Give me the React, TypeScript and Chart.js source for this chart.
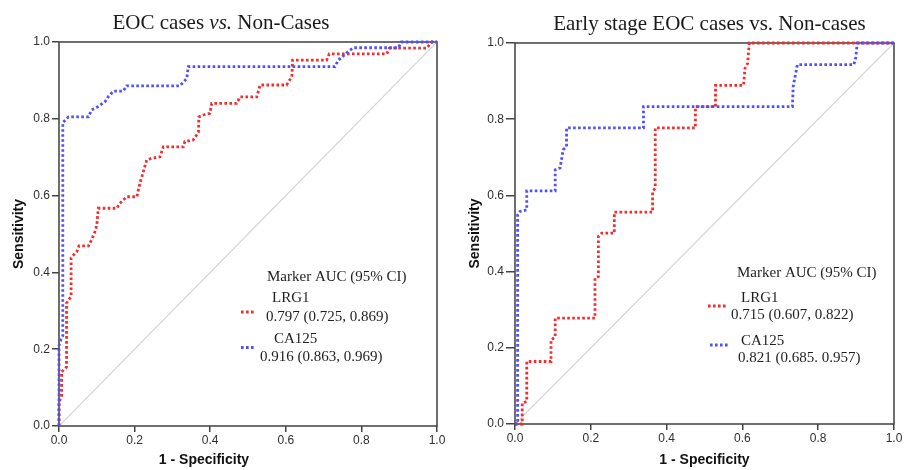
import React, { useEffect, useRef } from 'react';
import { Chart, registerables } from 'chart.js';

Chart.register(...registerables);

// ---------- DATA ----------
const tickValues = [0, 0.2, 0.4, 0.6, 0.8, 1.0];
const tickLabels = ['0.0', '0.2', '0.4', '0.6', '0.8', '1.0'];

// Left panel: EOC cases vs. Non-Cases
const leftLrg1Fpr = [0, 0, 0.007, 0.007, 0.02, 0.02, 0.025, 0.032, 0.032, 0.038, 0.047, 0.053, 0.078, 0.086, 0.095, 0.1, 0.104, 0.153, 0.161, 0.179, 0.206, 0.214, 0.223, 0.232, 0.245, 0.267, 0.276, 0.329, 0.333, 0.355, 0.364, 0.369, 0.37, 0.382, 0.399, 0.404, 0.47, 0.479, 0.523, 0.532, 0.602, 0.616, 0.618, 0.708, 0.715, 0.867, 0.874, 0.973, 0.986, 1];
const leftLrg1Sens = [0, 0.063, 0.076, 0.141, 0.154, 0.32, 0.328, 0.337, 0.437, 0.445, 0.454, 0.469, 0.469, 0.484, 0.506, 0.523, 0.567, 0.567, 0.58, 0.597, 0.597, 0.632, 0.662, 0.693, 0.697, 0.701, 0.727, 0.727, 0.741, 0.745, 0.758, 0.766, 0.805, 0.81, 0.814, 0.84, 0.84, 0.857, 0.857, 0.888, 0.888, 0.91, 0.953, 0.953, 0.969, 0.969, 0.984, 0.984, 1.0, 1];
const leftCa125Fpr = [0, 0, 0.005, 0.01, 0.01, 0.025, 0.078, 0.086, 0.104, 0.122, 0.13, 0.144, 0.17, 0.179, 0.32, 0.338, 0.342, 0.73, 0.739, 0.765, 0.779, 0.898, 0.906, 1];
const leftCa125Sens = [0, 0.21, 0.225, 0.235, 0.79, 0.805, 0.805, 0.823, 0.832, 0.845, 0.857, 0.872, 0.872, 0.886, 0.886, 0.905, 0.936, 0.936, 0.953, 0.975, 0.985, 0.985, 1.0, 1];

// Right panel: Early stage EOC cases vs. Non-cases
const rightLrg1Fpr = [0, 0.019, 0.019, 0.031, 0.031, 0.095, 0.095, 0.106, 0.106, 0.211, 0.211, 0.22, 0.22, 0.229, 0.262, 0.262, 0.363, 0.363, 0.37, 0.37, 0.476, 0.476, 0.529, 0.529, 0.603, 0.607, 0.614, 0.618, 1];
const rightLrg1Sens = [0, 0, 0.055, 0.059, 0.164, 0.164, 0.221, 0.228, 0.278, 0.278, 0.383, 0.387, 0.492, 0.501, 0.501, 0.556, 0.556, 0.61, 0.619, 0.777, 0.777, 0.833, 0.833, 0.889, 0.889, 0.934, 0.947, 1.0, 1];
const rightCa125Fpr = [0, 0.007, 0.007, 0.013, 0.031, 0.031, 0.106, 0.106, 0.119, 0.127, 0.136, 0.136, 0.339, 0.339, 0.732, 0.734, 0.745, 0.894, 0.899, 0.903, 1];
const rightCa125Sens = [0, 0, 0.549, 0.558, 0.562, 0.612, 0.612, 0.667, 0.672, 0.72, 0.728, 0.777, 0.777, 0.833, 0.833, 0.886, 0.943, 0.943, 0.961, 1.0, 1];

const seriesNames = ['LRG1', 'CA125'];
const leftAuc = ['0.797 (0.725, 0.869)', '0.916 (0.863, 0.969)'];
const rightAuc = ['0.715 (0.607, 0.822)', '0.821 (0.685. 0.957)'];

// ---------- STYLE ----------
const RED = '#f42c2c';
const BLUE = '#4f4fff';
const SERIF = '"Liberation Serif", "Times New Roman", serif';
const SANS = '"Liberation Sans", Arial, sans-serif';

type TitleSeg = { text: string; italic: boolean };
type Panel = {
  lrgFpr: number[]; lrgSens: number[]; caFpr: number[]; caSens: number[];
  title: TitleSeg[]; titleX: number; titleY: number;
  pad: { left: number; right: number; top: number; bottom: number };
  yWidth: number; xHeight: number; yTickLen: number; yTickPad: number;
  yTitleX: number; xTitleX: number | null; xTitleY: number;
  legendHeader: [number, number];
  name1: [number, number]; val1: [number, number]; sw1: [number, number, number];
  name2: [number, number]; val2: [number, number]; sw2: [number, number, number];
  auc: string[];
};

const toPts = (xs: number[], ys: number[]) => xs.map((x, i) => ({ x, y: ys[i] }));

function makeConfig(p: Panel): any {
  const decor = {
    id: 'decor',
    beforeDatasetsDraw(chart: any) {
      const { ctx, chartArea: a } = chart;
      ctx.save();
      ctx.strokeStyle = '#4a4a4a';
      ctx.lineWidth = 1.6;
      ctx.strokeRect(a.left, a.top, a.right - a.left, a.bottom - a.top);
      ctx.restore();
    },
    afterDraw(chart: any) {
      const { ctx, chartArea: a } = chart;
      ctx.save();
      // title
      ctx.fillStyle = '#1a1a1a';
      ctx.textBaseline = 'alphabetic';
      ctx.textAlign = 'left';
      let total = 0;
      const widths = p.title.map((s) => {
        ctx.font = (s.italic ? 'italic ' : '') + '21px ' + SERIF;
        const w = ctx.measureText(s.text).width;
        total += w;
        return w;
      });
      let x = p.titleX - total / 2;
      p.title.forEach((s, i) => {
        ctx.font = (s.italic ? 'italic ' : '') + '21px ' + SERIF;
        ctx.fillText(s.text, x, p.titleY);
        x += widths[i];
      });
      // axis titles
      ctx.fillStyle = '#111';
      ctx.font = 'bold 14px ' + SANS;
      ctx.textAlign = 'center';
      ctx.textBaseline = 'middle';
      const xtx = p.xTitleX === null ? (a.left + a.right) / 2 : p.xTitleX;
      ctx.fillText('1 - Specificity', xtx, p.xTitleY);
      ctx.save();
      ctx.translate(p.yTitleX, (a.top + a.bottom) / 2);
      ctx.rotate(-Math.PI / 2);
      ctx.fillText('Sensitivity', 0, 0);
      ctx.restore();
      // legend
      ctx.fillStyle = '#1e1e1e';
      ctx.font = '15px ' + SERIF;
      ctx.textAlign = 'left';
      ctx.textBaseline = 'middle';
      ctx.fillText('Marker AUC (95% CI)', p.legendHeader[0], p.legendHeader[1]);
      ctx.fillText(seriesNames[0], p.name1[0], p.name1[1]);
      ctx.fillText(p.auc[0], p.val1[0], p.val1[1]);
      ctx.fillText(seriesNames[1], p.name2[0], p.name2[1]);
      ctx.fillText(p.auc[1], p.val2[0], p.val2[1]);
      ctx.lineWidth = 2.8;
      ctx.setLineDash([2.6, 2.4]);
      ctx.strokeStyle = RED;
      ctx.beginPath();
      ctx.moveTo(p.sw1[0], p.sw1[2]);
      ctx.lineTo(p.sw1[1], p.sw1[2]);
      ctx.stroke();
      ctx.strokeStyle = BLUE;
      ctx.beginPath();
      ctx.moveTo(p.sw2[0], p.sw2[2]);
      ctx.lineTo(p.sw2[1], p.sw2[2]);
      ctx.stroke();
      ctx.restore();
    },
  };

  const lineDs = (label: string, data: any, color: string) => ({
    label,
    data,
    showLine: true,
    borderColor: color,
    backgroundColor: color,
    borderWidth: 2.8,
    borderDash: [2.6, 2.4],
    borderCapStyle: 'butt',
    pointRadius: 0,
    pointHoverRadius: 0,
    tension: 0,
    fill: false,
    clip: 4,
  });

  return {
    type: 'scatter',
    data: {
      datasets: [
        lineDs(seriesNames[1], toPts(p.caFpr, p.caSens), BLUE),
        lineDs(seriesNames[0], toPts(p.lrgFpr, p.lrgSens), RED),
        {
          label: 'ref',
          data: toPts([0, 1], [0, 1]),
          showLine: true,
          borderColor: '#d2d2d2',
          borderWidth: 1.2,
          pointRadius: 0,
          fill: false,
        },
      ],
    },
    options: {
      responsive: false,
      animation: false,
      events: [],
      layout: { padding: p.pad },
      plugins: { legend: { display: false }, tooltip: { enabled: false }, title: { display: false } },
      scales: {
        x: {
          type: 'linear',
          min: 0,
          max: 1,
          afterBuildTicks: (s: any) => { s.ticks = tickValues.map((v) => ({ value: v })); },
          afterFit: (s: any) => { s.height = p.xHeight; },
          ticks: {
            callback: (_v: any, i: number) => tickLabels[i],
            font: { family: SANS, size: 12 },
            color: '#2e2e2e',
            padding: 1,
            maxRotation: 0,
          },
          grid: { display: true, drawOnChartArea: false, drawTicks: true, tickLength: 6, color: '#444', lineWidth: 1.5 },
          border: { display: false },
          title: { display: false },
        },
        y: {
          type: 'linear',
          min: 0,
          max: 1,
          afterBuildTicks: (s: any) => { s.ticks = tickValues.map((v) => ({ value: v })); },
          afterFit: (s: any) => { s.width = p.yWidth; },
          ticks: {
            callback: (_v: any, i: number) => tickLabels[i],
            font: { family: SANS, size: 12 },
            color: '#2e2e2e',
            padding: p.yTickPad,
          },
          grid: { display: true, drawOnChartArea: false, drawTicks: true, tickLength: p.yTickLen, color: '#444', lineWidth: 1.5 },
          border: { display: false },
          title: { display: false },
        },
      },
    },
    plugins: [decor],
  };
}

const leftPanel: Panel = {
  lrgFpr: leftLrg1Fpr, lrgSens: leftLrg1Sens, caFpr: leftCa125Fpr, caSens: leftCa125Sens,
  title: [
    { text: 'EOC cases ', italic: false },
    { text: 'vs.', italic: true },
    { text: ' Non-Cases', italic: false },
  ],
  titleX: 221, titleY: 29,
  pad: { left: 0, right: 17, top: 42, bottom: 0 },
  yWidth: 59, xHeight: 44, yTickLen: 7, yTickPad: 2,
  yTitleX: 19, xTitleX: 204, xTitleY: 460,
  legendHeader: [267, 277],
  name1: [272, 298], val1: [266, 317], sw1: [241, 256, 312],
  name2: [274, 339], val2: [260, 357], sw2: [241, 256, 347.5],
  auc: leftAuc,
};

const rightPanel: Panel = {
  lrgFpr: rightLrg1Fpr, lrgSens: rightLrg1Sens, caFpr: rightCa125Fpr, caSens: rightCa125Sens,
  title: [{ text: 'Early stage EOC cases vs. Non-cases', italic: false }],
  titleX: 255.5, titleY: 29.5,
  pad: { left: 0, right: 14, top: 43, bottom: 0 },
  yWidth: 61, xHeight: 46, yTickLen: 9, yTickPad: 2,
  yTitleX: 21, xTitleX: null, xTitleY: 460,
  legendHeader: [283, 273],
  name1: [287, 298], val1: [277, 315], sw1: [254, 274, 306],
  name2: [287, 341], val2: [284, 358], sw2: [256, 276, 345],
  auc: rightAuc,
};

function ChartCanvas({ panel }: { panel: Panel }) {
  const ref = useRef<HTMLCanvasElement | null>(null);
  useEffect(() => {
    if (!ref.current) return;
    const chart = new Chart(ref.current, makeConfig(panel));
    return () => chart.destroy();
  }, [panel]);
  return <canvas ref={ref} width={454} height={470} style={{ width: 454, height: 470, display: 'block' }} />;
}

export default function App() {
  return (
    <div style={{ position: 'absolute', left: 0, top: 0, width: 908, height: 470, background: '#fff', display: 'flex' }}>
      <ChartCanvas panel={leftPanel} />
      <ChartCanvas panel={rightPanel} />
    </div>
  );
}
